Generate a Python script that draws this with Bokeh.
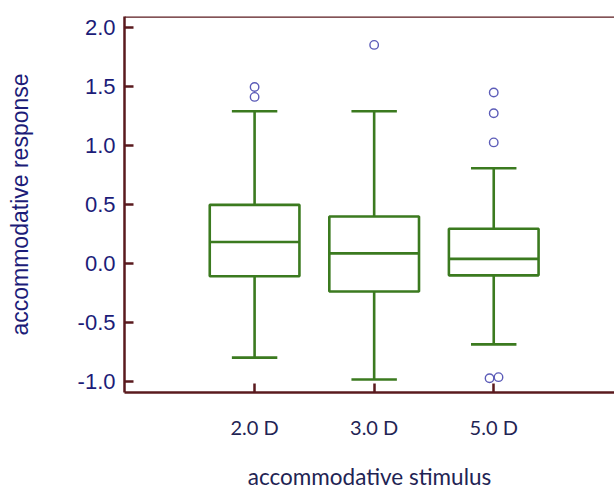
from bokeh.plotting import figure
from bokeh.models import FixedTicker, Range1d, Span
from bokeh.embed import file_html
from bokeh.resources import INLINE

# Accommodative response per stimulus level (box plot summary)
stimuli = ["2.0 D", "3.0 D", "5.0 D"]
positions = [1, 2, 3]
whisker_low = [-0.795, -0.98, -0.683]
q1 = [-0.107, -0.236, -0.099]
median = [0.183, 0.087, 0.040]
q3 = [0.497, 0.399, 0.295]
whisker_high = [1.289, 1.289, 0.806]
outliers = [
    [1.494, 1.41],
    [1.85],
    [1.447, 1.272, 1.025, -0.97, -0.96],
]

y_ticks = [-1.0, -0.5, 0.0, 0.5, 1.0, 1.5, 2.0]
x_title = "accommodative stimulus"
y_title = "accommodative response"

AXIS_COLOR = "#5a1a1e"
BOX_COLOR = "#3b7a1f"
OUT_COLOR = "#5c5cb8"
NAVY = "#1c1c78"
DARK_NAVY = "#1f2454"

box_w = 0.75
cap_w = 0.38

y_lo, y_hi = -1.09, 2.09
p = figure(
    width=614, height=492,
    x_range=Range1d(-0.088, 4.01), y_range=Range1d(y_lo, y_hi),
    output_backend="svg", toolbar_location=None,
    min_border_left=124, min_border_right=0, min_border_top=16, min_border_bottom=60,
)
p.background_fill_color = "white"
p.border_fill_color = "white"
p.outline_line_color = None
p.grid.visible = False

# Boxes
left = [x - box_w / 2 for x in positions]
right = [x + box_w / 2 for x in positions]
p.quad(left=left, right=right, bottom=q1, top=q3,
       fill_color=None, line_color=BOX_COLOR, line_width=2.6)
# Medians
p.segment(x0=left, x1=right, y0=median, y1=median, line_color=BOX_COLOR, line_width=2.6)
# Whisker stems
p.segment(x0=positions, x1=positions, y0=q3, y1=whisker_high, line_color=BOX_COLOR, line_width=2.6)
p.segment(x0=positions, x1=positions, y0=q1, y1=whisker_low, line_color=BOX_COLOR, line_width=2.6)
# Whisker caps
cl = [x - cap_w / 2 for x in positions]
cr = [x + cap_w / 2 for x in positions]
p.segment(x0=cl, x1=cr, y0=whisker_high, y1=whisker_high, line_color=BOX_COLOR, line_width=2.6)
p.segment(x0=cl, x1=cr, y0=whisker_low, y1=whisker_low, line_color=BOX_COLOR, line_width=2.6)

# Outliers; near-identical values are spread sideways so both stay visible
ox, oy = [], []
for pos, vals in zip(positions, outliers):
    for i, v in enumerate(vals):
        shift = 0.0
        for j, w in enumerate(vals):
            if j != i and abs(w - v) < 0.03:
                shift = -0.035 if i < j else 0.04
        ox.append(pos + shift)
        oy.append(v)
p.scatter(ox, oy, size=8.5, marker="circle", fill_color="white",
          line_color=OUT_COLOR, line_width=1.4)

# Axes
yax = p.yaxis[0]
yax.ticker = FixedTicker(ticks=y_ticks)
yax.major_label_overrides = {t: f"{t:.1f}" for t in y_ticks}
yax.axis_line_color = AXIS_COLOR
yax.axis_line_width = 2.5
yax.major_tick_line_color = AXIS_COLOR
yax.major_tick_line_width = 2.5
yax.major_tick_in = 9
yax.major_tick_out = 0
yax.minor_tick_line_color = None
yax.major_label_text_font = "Liberation Sans"
yax.major_label_text_font_size = "22px"
yax.major_label_text_color = NAVY
yax.major_label_standoff = 9
yax.axis_label = y_title
yax.axis_label_text_font = "Liberation Sans"
yax.axis_label_text_font_size = "23px"
yax.axis_label_text_font_style = "normal"
yax.axis_label_text_color = NAVY
yax.axis_label_standoff = 42

xax = p.xaxis[0]
xax.ticker = FixedTicker(ticks=positions)
xax.major_label_overrides = {pos: s for pos, s in zip(positions, stimuli)}
xax.axis_line_color = AXIS_COLOR
xax.axis_line_width = 2.5
xax.major_tick_line_color = AXIS_COLOR
xax.major_tick_line_width = 2.5
xax.major_tick_in = 9
xax.major_tick_out = 0
xax.minor_tick_line_color = None
xax.major_label_text_font = "Lato"
xax.major_label_text_font_size = "20px"
xax.major_label_text_color = DARK_NAVY
xax.major_label_standoff = 22
xax.axis_label = x_title
xax.axis_label_text_font = "Lato"
xax.axis_label_text_font_size = "22.5px"
xax.axis_label_text_font_style = "normal"
xax.axis_label_text_color = DARK_NAVY
xax.axis_label_standoff = 21

# Top frame edge
p.add_layout(Span(location=y_hi, dimension="width", line_color=AXIS_COLOR, line_width=2.5))

open("out.html", "w").write(file_html(p, INLINE))
